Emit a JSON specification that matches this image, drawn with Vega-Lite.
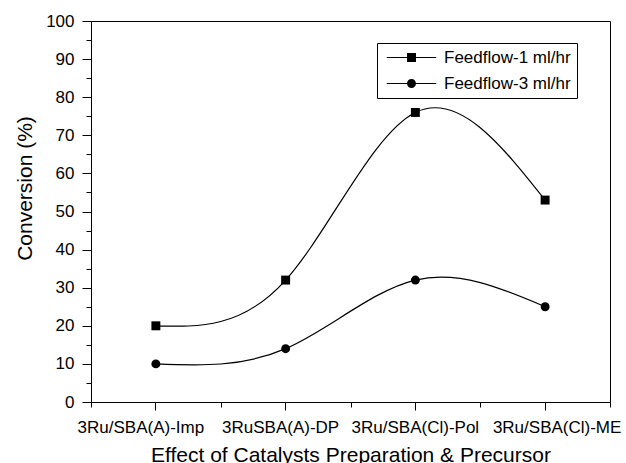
{
  "$schema": "https://vega.github.io/schema/vega-lite/v6.json",
  "autosize": {"type": "none"},
  "width": 519,
  "height": 381,
  "padding": {"left": 91, "top": 21, "right": 16, "bottom": 61},
  "background": "white",
  "config": {
    "view": {"stroke": "black", "strokeWidth": 1},
    "font": "Liberation Sans",
    "axis": {
      "domainColor": "black", "tickColor": "black", "labelColor": "black", "titleColor": "black",
      "labelFont": "Liberation Sans", "titleFont": "Liberation Sans",
      "labelFontSize": 17, "titleFontSize": 21, "titleFontWeight": "normal",
      "grid": false, "domainWidth": 1, "tickWidth": 1
    }
  },
  "data": {"values": [
    {"catalyst": "3Ru/SBA(A)-Imp", "series": "Feedflow-1 ml/hr", "conversion": 20},
    {"catalyst": "3RuSBA(A)-DP", "series": "Feedflow-1 ml/hr", "conversion": 32},
    {"catalyst": "3Ru/SBA(Cl)-Pol", "series": "Feedflow-1 ml/hr", "conversion": 76},
    {"catalyst": "3Ru/SBA(Cl)-ME", "series": "Feedflow-1 ml/hr", "conversion": 53},
    {"catalyst": "3Ru/SBA(A)-Imp", "series": "Feedflow-3 ml/hr", "conversion": 10},
    {"catalyst": "3RuSBA(A)-DP", "series": "Feedflow-3 ml/hr", "conversion": 14},
    {"catalyst": "3Ru/SBA(Cl)-Pol", "series": "Feedflow-3 ml/hr", "conversion": 32},
    {"catalyst": "3Ru/SBA(Cl)-ME", "series": "Feedflow-3 ml/hr", "conversion": 25}
  ]},
  "encoding": {
    "y": {"field": "conversion", "type": "quantitative",
      "scale": {"domain": [0, 100], "nice": false},
      "axis": {
        "title": "Conversion (%)",
        "values": [0,5,10,15,20,25,30,35,40,45,50,55,60,65,70,75,80,85,90,95,100],
        "labelExpr": "datum.value % 10 === 0 ? datum.label : ''",
        "labelOverlap": false,
        "tickSize": {"condition": {"test": "datum.value % 10 !== 0", "value": 5}, "value": 9},
        "labelPadding": 8,
        "titleX": -60, "titleY": 167, "titleBaseline": "alphabetic"
      }}
  },
  "layer": [
    {
      "mark": {"type": "point", "opacity": 0},
      "encoding": {
        "x": {"field": "catalyst", "type": "nominal", "sort": null,
          "scale": {"type": "band", "paddingInner": 0, "paddingOuter": 0},
          "axis": {"orient": "bottom", "title": null, "labels": false, "domain": false, "tickSize": 5, "tickBand": "extent"}}
      }
    },
    {
      "encoding": {
        "x": {
          "field": "catalyst", "type": "nominal", "sort": null,
          "scale": {"type": "band", "paddingInner": 0, "paddingOuter": 0},
          "axis": {
            "orient": "bottom",
            "title": "Effect of Catalysts Preparation & Precursor",
            "labelAngle": 0, "tickSize": 8, "labelPadding": 22, "labelBaseline": "alphabetic",
            "labelLimit": 300, "titleY": 59, "titleBaseline": "alphabetic",
            "labelOffset": {"condition": [
              {"test": "datum.value === '3Ru/SBA(A)-Imp'", "value": -15},
              {"test": "datum.value === '3RuSBA(A)-DP'", "value": -5},
              {"test": "datum.value === '3Ru/SBA(Cl)-ME'", "value": 12}
            ], "value": 0}
          }
        }
      },
      "layer": [
        {
          "mark": {"type": "line", "interpolate": "natural", "color": "black", "strokeWidth": 1.2},
          "encoding": {"detail": {"field": "series"}}
        },
        {
          "transform": [{"filter": "datum.series === 'Feedflow-1 ml/hr'"}],
          "mark": {"type": "point", "shape": "square", "filled": true, "color": "black", "size": 80, "opacity": 1}
        },
        {
          "transform": [{"filter": "datum.series === 'Feedflow-3 ml/hr'"}],
          "mark": {"type": "point", "shape": "circle", "filled": true, "color": "black", "size": 80, "opacity": 1}
        },
        {
          "mark": {"type": "point", "filled": true, "color": "black", "stroke": "black", "strokeWidth": 1, "size": 81, "opacity": 0},
          "encoding": {
            "shape": {
              "field": "series", "type": "nominal",
              "scale": {"domain": ["Feedflow-1 ml/hr", "Feedflow-3 ml/hr"],
                "range": [
                  "M-5.5,-0.12H-1V-1H1V-0.12H5.5V0.12H1V1H-1V0.12H-5.5Z",
                  "M-5.5,-0.12H-0.98V0.12H-5.5Z M0.98,-0.12H5.5V0.12H0.98Z M-1,0A1,1,0,1,1,1,0A1,1,0,1,1,-1,0Z"
                ]},
              "legend": {
                "title": null, "orient": "none", "legendX": 286, "legendY": 22,
                "strokeColor": "black", "padding": 6, "fillColor": "white",
                "labelFont": "Liberation Sans", "labelFontSize": 17, "labelColor": "black", "labelLimit": 300,
                "symbolSize": 81, "symbolOffset": 20, "labelOffset": 24, "rowPadding": 8,
                "symbolOpacity": 1,
                "symbolFillColor": "black", "symbolStrokeColor": "black", "symbolStrokeWidth": 1,
                "encode": {"symbols": {
                  "fill": {"value": "black"},
                  "opacity": {"value": 1}
                }}
              }
            }
          }
        }
      ]
    }
  ],
  "resolve": {"scale": {"x": "independent"}, "axis": {"x": "independent"}}
}
